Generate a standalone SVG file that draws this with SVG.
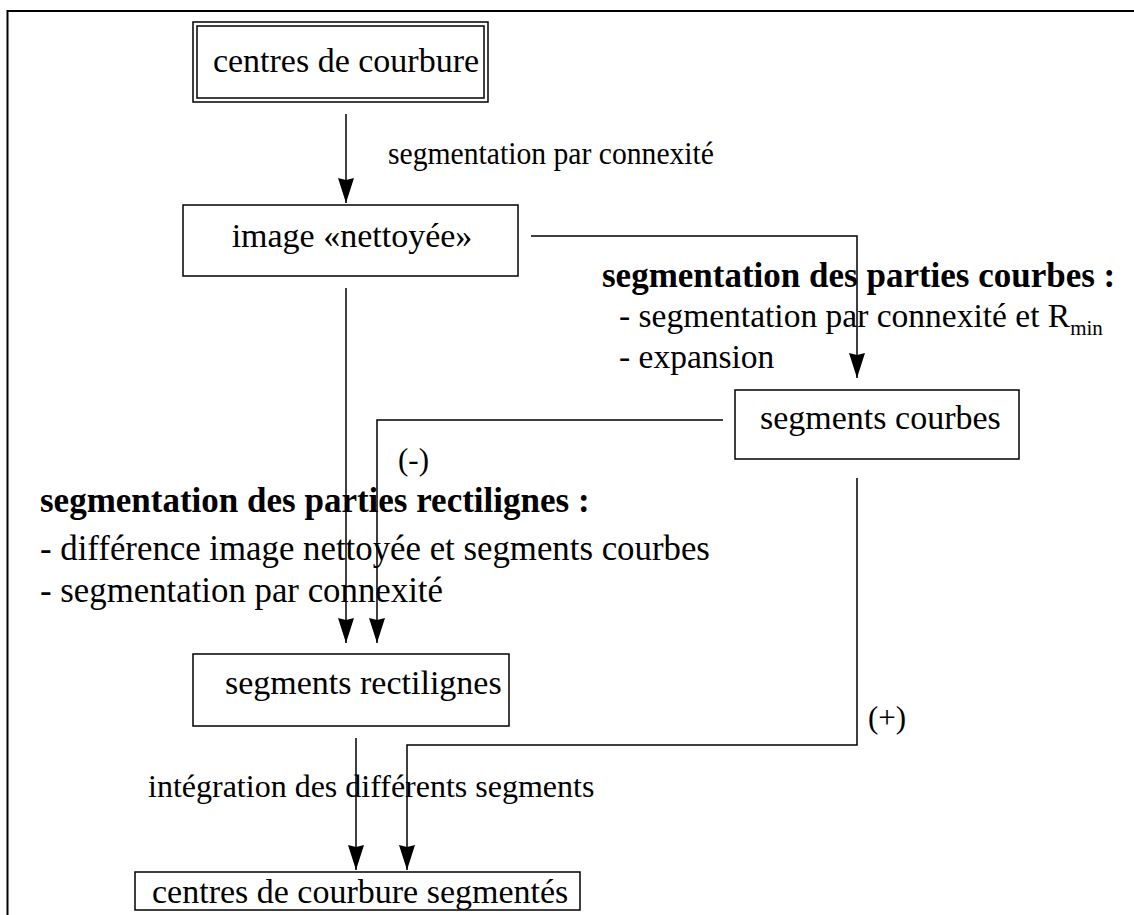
<svg xmlns="http://www.w3.org/2000/svg" width="1134" height="915" viewBox="0 0 1134 915">
<defs>
<marker id="ah" markerUnits="userSpaceOnUse" markerWidth="26" markerHeight="16" refX="25" refY="8" orient="auto" viewBox="0 0 26 16">
<path d="M0,0 L25,8 L0,16 L2,8 Z" fill="#000"/>
</marker>
<style>
text{font-family:"Liberation Serif","Times New Roman",serif;font-size:34px;fill:#000}
.b{font-weight:bold;font-size:35px}
.l{font-size:34.8px}
.r{font-size:33.5px}
.s{font-size:31px}
.sub{font-size:21px}
.box{fill:#fff;stroke:#000;stroke-width:1.5}
.ln{fill:none;stroke:#000;stroke-width:1.5}
</style>
</defs>
<rect width="1134" height="915" fill="#fff"/>
<path d="M7.5,915 V11 H1134" fill="none" stroke="#000" stroke-width="2"/>
<g id="connectors">
<path class="ln" d="M346,114 V203" marker-end="url(#ah)"/>
<path class="ln" d="M531,236 H857 V378" marker-end="url(#ah)"/>
<path class="ln" d="M346,288 V643" marker-end="url(#ah)"/>
<path class="ln" d="M723,420 H377 V643" marker-end="url(#ah)"/>
<path class="ln" d="M857,478 V745 H407 V870" marker-end="url(#ah)"/>
<path class="ln" d="M356,738 V870" marker-end="url(#ah)"/>
</g>
<g id="n1">
<rect class="box" x="193" y="22" width="295" height="80"/>
<rect class="box" x="197" y="26" width="287" height="72"/>
<text x="346" y="72" text-anchor="middle">centres de courbure</text>
</g>
<g id="n2">
<rect class="box" x="183" y="205" width="335" height="71"/>
<text x="352" y="247" text-anchor="middle">image «nettoyée»</text>
</g>
<g id="n3">
<rect class="box" x="735" y="390" width="284" height="69"/>
<text x="760" y="429">segments courbes</text>
</g>
<g id="n4">
<rect class="box" x="193" y="654" width="316" height="72"/>
<text x="225" y="694">segments rectilignes</text>
</g>
<g id="n5">
<rect class="box" x="135" y="872" width="445" height="38"/>
<text x="152" y="903">centres de courbure segmentés</text>
</g>
<g id="labels">
<text x="388" y="164" style="font-size:32px" textLength="326" lengthAdjust="spacingAndGlyphs">segmentation par connexité</text>
<text class="b" x="602" y="287">segmentation des parties courbes :</text>
<text class="r" x="619" y="327">- segmentation par connexité et R<tspan class="sub" dy="8">min</tspan></text>
<text class="r" x="619" y="368">- expansion</text>
<text class="s" x="398" y="470">(-)</text>
<text class="b" x="40" y="512">segmentation des parties rectilignes :</text>
<text class="l" x="40" y="560">- différence image nettoyée et segments courbes</text>
<text class="l" x="40" y="602">- segmentation par connexité</text>
<text class="s" x="868" y="728">(+)</text>
<text x="148" y="797" style="font-size:32px">intégration des différents segments</text>
</g>
</svg>
